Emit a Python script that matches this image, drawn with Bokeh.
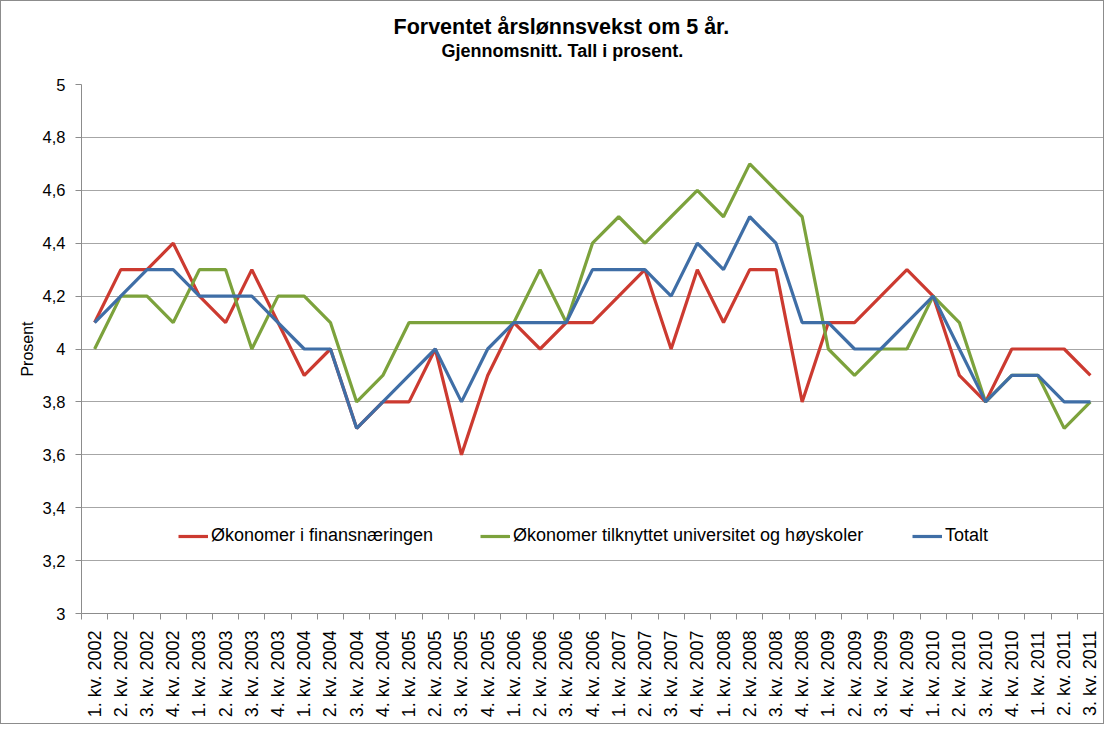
import numpy as np
from bokeh.plotting import figure
from bokeh.models import FixedTicker, Title, Legend, LegendItem, CustomJSTickFormatter, Range1d
from bokeh.embed import file_html
from bokeh.resources import INLINE

quarters = [f"{q}. kv. {y}" for y in range(2002, 2012) for q in range(1, 5)][:39]

finans = [4.1, 4.3, 4.3, 4.4, 4.2, 4.1, 4.3, 4.1, 3.9, 4.0, 3.7, 3.8, 3.8, 4.0, 3.6, 3.9,
          4.1, 4.0, 4.1, 4.1, 4.2, 4.3, 4.0, 4.3, 4.1, 4.3, 4.3, 3.8, 4.1, 4.1, 4.2, 4.3,
          4.2, 3.9, 3.8, 4.0, 4.0, 4.0, 3.9]
univ = [4.0, 4.2, 4.2, 4.1, 4.3, 4.3, 4.0, 4.2, 4.2, 4.1, 3.8, 3.9, 4.1, 4.1, 4.1, 4.1,
        4.1, 4.3, 4.1, 4.4, 4.5, 4.4, 4.5, 4.6, 4.5, 4.7, 4.6, 4.5, 4.0, 3.9, 4.0, 4.0,
        4.2, 4.1, 3.8, 3.9, 3.9, 3.7, 3.8]
totalt = [4.1, 4.2, 4.3, 4.3, 4.2, 4.2, 4.2, 4.1, 4.0, 4.0, 3.7, 3.8, 3.9, 4.0, 3.8, 4.0,
          4.1, 4.1, 4.1, 4.3, 4.3, 4.3, 4.2, 4.4, 4.3, 4.5, 4.4, 4.1, 4.1, 4.0, 4.0, 4.1,
          4.2, 4.0, 3.8, 3.9, 3.9, 3.8, 3.8]
y_ticks = [3.0, 3.2, 3.4, 3.6, 3.8, 4.0, 4.2, 4.4, 4.6, 4.8, 5.0]

title = "Forventet årslønnsvekst om 5 år."
subtitle = "Gjennomsnitt.  Tall i prosent."
series_names = ["Økonomer i finansnæringen", "Økonomer tilknyttet universitet og høyskoler", "Totalt"]
colors = ["#cc3a30", "#7ca23c", "#3f6ea6"]

FONT = "Liberation Sans"
x = list(range(len(quarters)))

p = figure(width=1104, height=724, output_backend="svg", toolbar_location=None,
           x_range=Range1d(-0.5, len(quarters) - 0.5), y_range=Range1d(3, 5),
           min_border_left=80, min_border_right=2, min_border_bottom=112, min_border_top=83)
p.styles = {"border": "1px solid #8c8c8c"}

# spacer between frame and subtitle
p.add_layout(Title(text=" ", text_font_size="1px", standoff=21), "above")
p.add_layout(Title(text=subtitle, align="left", offset=360, text_font=FONT,
                   text_font_size="18px", text_font_style="bold", text_color="black",
                   standoff=0), "above")
p.add_layout(Title(text=title, align="left", offset=312, text_font=FONT,
                   text_font_size="21.5px", text_font_style="bold", text_color="black",
                   standoff=0), "above")

renderers = []
for vals, c in zip([finans, univ, totalt], colors):
    r = p.line(x, vals, line_color=c, line_width=3.2)
    renderers.append(r)

legend_x = [97, 399, 831]
for n, r, lx in zip(series_names, renderers, legend_x):
    lg = Legend(items=[LegendItem(label=n, renderers=[r])],
                orientation="horizontal", location=(lx, 67), border_line_color=None,
                background_fill_alpha=0, label_text_font=FONT, label_text_font_size="18px",
                label_text_color="black",
                glyph_width=30, label_standoff=3, spacing=0, padding=0, margin=0)
    p.add_layout(lg, "center")

p.outline_line_color = None
p.xgrid.grid_line_color = None
p.ygrid.grid_line_color = "#a6a6a6"
p.ygrid.grid_line_width = 1.2

p.yaxis.ticker = FixedTicker(ticks=y_ticks)
p.yaxis.formatter = CustomJSTickFormatter(code="return (Math.round(tick*10)/10).toString().replace('.', ',');")
p.yaxis.axis_label = "Prosent"
p.yaxis.axis_label_text_font = FONT
p.yaxis.axis_label_text_font_style = "normal"
p.yaxis.axis_label_text_font_size = "16px"
p.yaxis.axis_label_text_color = "black"
p.yaxis.axis_label_standoff = 4
p.yaxis.major_label_text_font = FONT
p.yaxis.major_label_text_font_size = "16.5px"
p.yaxis.major_label_text_color = "black"
p.yaxis.major_label_standoff = 10
p.yaxis.axis_line_color = "#8c8c8c"
p.yaxis.major_tick_line_color = "#8c8c8c"
p.yaxis.major_tick_out = 6
p.yaxis.major_tick_in = 0
p.yaxis.minor_tick_line_color = None

p.xaxis.ticker = FixedTicker(ticks=x, minor_ticks=[i - 0.5 for i in range(len(quarters) + 1)])
p.xaxis.major_label_overrides = {i: q for i, q in enumerate(quarters)}
p.xaxis.major_label_orientation = np.pi / 2
p.xaxis.major_label_text_font = FONT
p.xaxis.major_label_text_font_size = "18px"
p.xaxis.major_label_text_color = "black"
p.xaxis.major_label_standoff = 11
p.xaxis.major_tick_out = 0
p.xaxis.major_tick_in = 0
p.xaxis.minor_tick_out = 6
p.xaxis.minor_tick_in = 0
p.xaxis.minor_tick_line_color = "#8c8c8c"
p.xaxis.axis_line_color = "#8c8c8c"

open("out.html", "w").write(file_html(p, INLINE))
